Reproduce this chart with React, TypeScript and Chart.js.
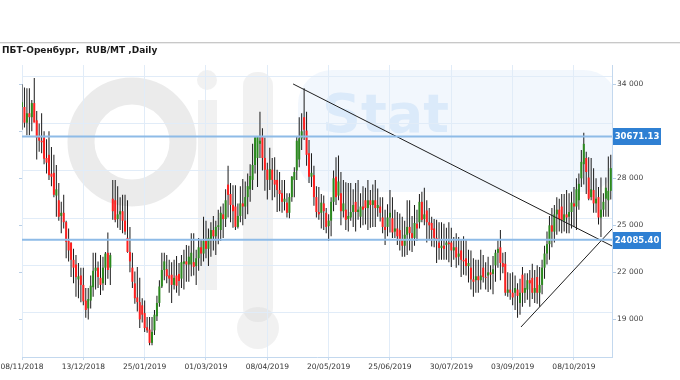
import React, { useEffect, useRef } from 'react';
import { Chart, registerables } from 'chart.js';

Chart.register(...registerables);

const chartTitle = 'ПБТ-Оренбург,  RUB/MT ,Daily';

// bar index of each dated tick and its label
const tickIndex = [0, 25, 50, 75, 100, 125, 150, 175, 200, 225];
const tickDates = ['08/11/2018', '13/12/2018', '25/01/2019', '01/03/2019', '08/04/2019', '20/05/2019', '25/06/2019', '30/07/2019', '03/09/2019', '08/10/2019'];

const priceTicks = [19000, 22000, 25000, 28000, 31000, 34000];
const gridPrices = [19500, 22500, 25500, 28500, 31500, 34500];
const hiddenTick = 31000;

const levels = [30671.13, 24085.4];

const trendDown = [{ x: 110.5, y: 34020 }, { x: 240.5, y: 23683 }];
const trendUp = [{ x: 203.4, y: 18515 }, { x: 240.5, y: 24768 }];

const opens = [
  32550, 32550, 31550, 32150, 31900, 32800, 31700, 30650, 30400, 30600,
  29300, 29500, 28300, 28350, 26900, 26600, 25600, 25800, 25200, 24000,
  23900, 22800, 22500, 21550, 21800, 21200, 20200, 19700, 20200, 21050,
  22100, 22300, 21650, 21300, 22300, 23250, 22300, 26700, 26600, 25400,
  25700, 25900, 25300, 24200, 23300, 22300, 21300, 20400, 20100, 19900,
  19400, 18500, 18350, 17500, 18300, 19200, 20050, 21100, 22150, 22200,
  21800, 21850, 21200, 21800, 21900, 21600, 22550, 22700, 22500, 22500,
  22650, 22400, 22900, 23600, 23200, 24000, 23500, 24100, 24700, 24300,
  24900, 24700, 25700, 25400, 27600, 27000, 26300, 26200, 24900, 25600,
  26400, 26200, 26800, 27300, 27900, 28850, 29300, 30200, 30650, 29300,
  28550, 27900, 28550, 27900, 27900, 27250, 27050, 26500, 26450, 25800,
  26800, 27900, 28500, 29200, 30550, 31900, 31050, 29600, 28100, 28200,
  26800, 25850, 25800, 26400, 25800, 24950, 25300, 26500, 28100, 26900,
  27050, 25900, 26000, 25400, 25500, 25850, 26500, 25850, 25550, 26200,
  26600, 26100, 26600, 26300, 26600, 26100, 26200, 25500, 24900, 24900,
  25500, 25450, 24600, 24800, 24700, 24100, 23700, 24400, 24900, 24500,
  24200, 25100, 25200, 26500, 25400, 25950, 25200, 25150, 24800, 24200,
  23900, 23550, 23700, 23750, 23900, 23900, 23400, 23600, 23000, 23400,
  22800, 22900, 22400, 22300, 21550, 21500, 21750, 21500, 22300, 21700,
  21800, 22000, 21900, 22450, 23250, 23600, 22600, 22550, 20700, 20900,
  20700, 20700, 20900, 20050, 21850, 20700, 20900, 21500, 21650, 20700,
  21700, 20700, 21200, 22300, 23200, 23800, 25000, 24600, 25700, 26000,
  26200, 25300, 25700, 25550, 25850, 26400, 26200, 26600, 28000, 28900,
  29300, 28050, 26800, 27250, 26400, 26800, 25500, 26000, 26700, 26600,
  27200,
];

const highs = [
  34000, 33800, 33750, 33750, 33000, 34400, 32300, 31500, 32150, 31000,
  30500, 31000, 30000, 29500, 28850, 27700, 26500, 26950, 25300, 24800,
  23900, 23500, 23100, 22600, 22300, 22300, 21000, 21000, 21800, 23250,
  23250, 22700, 23100, 23000, 23300, 24550, 23250, 27900, 27900, 27500,
  26800, 26950, 26950, 26600, 24900, 23250, 22050, 22350, 21650, 20350,
  20200, 19150, 19150, 19150, 19600, 20500, 21500, 23250, 23250, 23100,
  22800, 22650, 22800, 23050, 22600, 23100, 23450, 23750, 23700, 24500,
  24500, 23450, 24200, 24100, 25550, 25300, 24800, 25200, 25600, 25300,
  26000, 26200, 26400, 27300, 28800, 27700, 27550, 27550, 26400, 27500,
  27950, 27800, 28300, 28900, 30200, 30650, 30650, 32250, 31200, 30600,
  29000, 29950, 29300, 29350, 28550, 28400, 27900, 27900, 27050, 27050,
  28150, 28700, 30700, 31900, 32150, 33750, 32250, 30450, 29600, 28800,
  27500, 27450, 27000, 26900, 26100, 25700, 26800, 28500, 29350, 29450,
  28400, 27900, 27750, 27700, 27700, 27300, 27700, 27900, 27050, 27500,
  27400, 27900, 27250, 27600, 27900, 27350, 26800, 26800, 26000, 26350,
  27250, 26800, 26000, 25850, 25750, 25550, 25300, 26600, 26600, 25600,
  26300, 26000, 27000, 27150, 27400, 26600, 26100, 25550, 25400, 25350,
  25200, 25200, 25100, 24850, 25200, 24850, 24250, 24500, 24250, 24050,
  24300, 24050, 23450, 23400, 22900, 22800, 22800, 23450, 23100, 22650,
  23000, 22450, 23050, 23450, 24050, 24700, 23250, 23300, 22000, 21950,
  22000, 21800, 21300, 21600, 22350, 21950, 21950, 22150, 22550, 22150,
  22450, 22350, 22800, 23700, 24600, 25600, 26100, 26300, 26800, 26700,
  27000, 27000, 27250, 27050, 27150, 27450, 28000, 28300, 29800, 30900,
  29700, 29350, 29300, 28650, 28000, 27450, 28050, 27050, 28050, 29400,
  29500,
];

const lows = [
  31100, 31250, 30750, 30750, 31000, 31600, 29200, 29700, 29600, 28900,
  28300, 27900, 27500, 26800, 25550, 25300, 24500, 24800, 22900, 22700,
  21700, 21300, 20450, 20350, 20100, 19900, 19100, 19000, 19700, 20450,
  20900, 21000, 20550, 20850, 21200, 21600, 21200, 25350, 25200, 24850,
  24700, 24500, 24400, 23250, 22000, 21000, 20000, 19500, 18450, 18800,
  18200, 18150, 17350, 17350, 18000, 18900, 19800, 21000, 21500, 21300,
  20700, 20050, 20900, 20700, 20500, 21000, 20900, 21400, 21400, 21750,
  21800, 21200, 22100, 22400, 22700, 22900, 22400, 23000, 23400, 23100,
  23800, 24000, 24200, 24900, 25500, 25200, 24850, 24700, 24800, 25200,
  25000, 25400, 25700, 26500, 27250, 28300, 27450, 29300, 28500, 27200,
  26650, 27250, 26600, 26800, 25850, 25900, 25800, 25950, 25500, 25450,
  26500, 26800, 27900, 28700, 29800, 30450, 28800, 27700, 27450, 26250,
  25500, 25350, 24800, 24700, 24500, 24000, 24300, 25900, 26300, 26600,
  25000, 25500, 24700, 24600, 25300, 24900, 24600, 25350, 24850, 25000,
  25050, 24700, 24850, 24900, 24900, 25550, 25250, 24500, 23750, 24300,
  24550, 24200, 24200, 23750, 23400, 23000, 23000, 23100, 23400, 23300,
  23700, 24000, 24800, 25200, 25000, 23900, 24050, 23650, 23600, 22600,
  22800, 22800, 22800, 22800, 22650, 22350, 22800, 22300, 22450, 21700,
  21850, 21800, 21350, 20900, 20450, 20700, 20700, 20900, 21350, 20900,
  20750, 20900, 20600, 21400, 22300, 21500, 21950, 20500, 20450, 20250,
  19900, 19600, 19100, 19300, 19800, 20050, 20250, 19800, 20300, 20050,
  20000, 19800, 20600, 21600, 22500, 22800, 23600, 23900, 24400, 24600,
  24500, 24600, 24500, 24500, 24800, 24900, 24700, 26000, 27450, 27600,
  27000, 26600, 26600, 25800, 25800, 25050, 24250, 25550, 25550, 25550,
  26650,
];

const closes = [
  32850, 31550, 32150, 31900, 32800, 31550, 30600, 30400, 30300, 29250,
  29000, 28200, 28100, 26950, 27300, 25550, 25800, 25200, 23950, 23400,
  22800, 22300, 21700, 21750, 21200, 20150, 19600, 20300, 21150, 22100,
  22300, 21700, 21200, 22300, 23200, 22150, 23100, 25900, 25350, 25700,
  25900, 25300, 24600, 23300, 22700, 21400, 20350, 20100, 19000, 19300,
  18450, 18300, 17500, 18200, 19300, 20050, 21100, 22150, 22700, 21750,
  21600, 21200, 21650, 21150, 21450, 22650, 22700, 22500, 23000, 23250,
  22350, 22900, 23600, 23200, 24000, 23500, 24200, 24700, 24300, 24900,
  25000, 25800, 25400, 26600, 26950, 26300, 25900, 24900, 25600, 26400,
  26200, 26800, 27500, 28150, 28850, 30600, 30650, 30400, 29300, 28550,
  27900, 28600, 27900, 27600, 27250, 27000, 26500, 26700, 25800, 26800,
  28100, 28400, 30400, 30550, 31000, 31100, 29500, 28100, 28350, 26800,
  25850, 25700, 26450, 25900, 24900, 25300, 26500, 28000, 26800, 27800,
  25900, 26400, 25350, 25600, 25850, 26300, 25850, 26000, 26200, 26000,
  26100, 26600, 26300, 26600, 26100, 26300, 25800, 24900, 24700, 25500,
  25800, 24550, 24800, 24300, 24050, 23700, 24400, 24900, 24500, 24200,
  25150, 24800, 26500, 25350, 25700, 25200, 25000, 24700, 24200, 24100,
  23550, 23700, 23500, 23900, 23800, 23400, 23600, 22950, 23200, 22800,
  22700, 22400, 22600, 21550, 21400, 21750, 21500, 21800, 21700, 21650,
  22000, 21850, 22200, 23250, 23500, 22600, 22350, 20700, 20900, 20700,
  20400, 21000, 20500, 20700, 20700, 21000, 21500, 21300, 20700, 21000,
  20700, 21200, 22300, 23200, 23800, 25000, 24600, 25700, 26000, 25400,
  25350, 25700, 25500, 25850, 26450, 26200, 27300, 27650, 29050, 30200,
  28400, 26700, 27300, 26400, 26700, 25500, 26000, 26500, 27400, 27200,
  28650,
];

const UP = '#2b8a1e';
const DOWN = '#ff1f1f';
const FONT = "'DejaVu Sans', Verdana, sans-serif";

const fmt = (v: number) => String(v).replace(/\B(?=(\d{3})+(?!\d))/g, ' ');

const backdrop = {
  id: 'backdrop',
  beforeDraw(chart: any) {
    const { ctx, chartArea: a, width } = chart;
    ctx.save();
    ctx.fillStyle = '#ffffff';
    ctx.fillRect(0, 0, chart.width, chart.height);
    ctx.fillStyle = '#c8c8c8';
    ctx.fillRect(0, 42, width, 1);
    ctx.fillStyle = '#ececec';
    ctx.fillRect(0, 43, width, 1);
    ctx.fillStyle = '#1a1a1a';
    ctx.font = `bold 9px ${FONT}`;
    ctx.textBaseline = 'middle';
    ctx.textAlign = 'left';
    ctx.fillText(chartTitle, 2, 51);

    // faint watermark
    ctx.beginPath();
    ctx.rect(a.left, a.top, a.right - a.left, a.bottom - a.top);
    ctx.clip();
    ctx.fillStyle = 'rgba(222,236,250,0.4)';
    ctx.beginPath();
    (ctx as any).roundRect(298, 70, 320, 122, 34);
    ctx.fill();
    ctx.strokeStyle = 'rgba(205,205,205,0.4)';
    ctx.lineWidth = 27;
    ctx.beginPath();
    ctx.arc(132, 142, 51, 0, Math.PI * 2);
    ctx.stroke();
    ctx.fillStyle = 'rgba(210,210,210,0.3)';
    ctx.fillRect(198, 100, 19, 190);
    ctx.beginPath();
    ctx.arc(207, 80, 10, 0, Math.PI * 2);
    ctx.fill();
    ctx.beginPath();
    (ctx as any).roundRect(243, 72, 30, 250, 14);
    ctx.fill();
    ctx.beginPath();
    ctx.arc(258, 328, 21, 0, Math.PI * 2);
    ctx.fill();
    ctx.fillStyle = 'rgba(185,216,245,0.4)';
    ctx.font = `bold 54px ${FONT}`;
    ctx.textBaseline = 'alphabetic';
    ctx.fillText('Stat', 322, 132);
    ctx.restore();
  },
  beforeDatasetsDraw(chart: any) {
    const { ctx, chartArea: a, scales } = chart;
    const y = scales.y;
    ctx.save();
    ctx.strokeStyle = '#e1ecf8';
    ctx.lineWidth = 1;
    gridPrices.forEach((v) => {
      const p = Math.round(y.getPixelForValue(v)) + 0.5;
      if (p < a.top || p > a.bottom) return;
      ctx.beginPath();
      ctx.moveTo(a.left, p);
      ctx.lineTo(a.right, p);
      ctx.stroke();
    });
    ctx.strokeStyle = '#b9cfe6';
    priceTicks.forEach((v) => {
      const p = Math.round(y.getPixelForValue(v)) + 0.5;
      ctx.beginPath();
      ctx.moveTo(a.left - 3, p);
      ctx.lineTo(a.left, p);
      ctx.stroke();
    });
    ctx.restore();
  },
  afterDraw(chart: any) {
    const { ctx, chartArea: a, scales } = chart;
    ctx.save();
    levels.forEach((lv) => {
      const p = scales.y.getPixelForValue(lv);
      ctx.fillStyle = '#2f80d3';
      ctx.fillRect(a.right + 1, Math.round(p) - 8, 48, 17);
      ctx.fillStyle = '#ffffff';
      ctx.font = `bold 8.5px ${FONT}`;
      ctx.textAlign = 'center';
      ctx.textBaseline = 'middle';
      ctx.fillText(lv.toFixed(2), a.right + 25, Math.round(p) + 0.5);
    });
    ctx.restore();
  },
};

export default function App() {
  const ref = useRef<HTMLCanvasElement | null>(null);

  useEffect(() => {
    if (!ref.current) return;
    const wicks = highs.map((h, i) => ({ x: i, y: [lows[i], h] }));
    const bodies = opens.map((o, i) => ({ x: i, y: [o, closes[i]] }));
    const bodyColors = opens.map((o, i) => (closes[i] >= o ? UP : DOWN));
    const xMax = 240.5;

    const chart = new Chart(ref.current, {
      type: 'bar',
      data: {
        datasets: [
          ...levels.map((lv) => ({
            type: 'line' as const,
            data: [{ x: 0, y: lv }, { x: xMax, y: lv }],
            borderColor: '#8ebbe7',
            borderWidth: 2,
            pointRadius: 0,
            order: 0,
          })),
          {
            type: 'line' as const,
            data: trendDown,
            borderColor: '#1e1e1e',
            borderWidth: 1,
            pointRadius: 0,
            order: 0,
          },
          {
            type: 'line' as const,
            data: trendUp,
            borderColor: '#1e1e1e',
            borderWidth: 1,
            pointRadius: 0,
            order: 0,
          },
          {
            type: 'bar' as const,
            data: bodies as any,
            backgroundColor: bodyColors,
            barThickness: 2,
            grouped: false,
            inflateAmount: 0,
            order: 1,
          },
          {
            type: 'bar' as const,
            data: wicks as any,
            backgroundColor: '#1a1a1a',
            barThickness: 1,
            grouped: false,
            inflateAmount: 0,
            order: 2,
          },
        ],
      },
      options: {
        animation: false,
        responsive: false,
        maintainAspectRatio: false,
        layout: { padding: { left: 22, top: 65, right: 0, bottom: 0 } },
        plugins: {
          legend: { display: false },
          tooltip: { enabled: false },
        },
        scales: {
          x: {
            type: 'linear',
            min: 0,
            max: xMax,
            offset: false,
            afterBuildTicks: (s: any) => {
              s.ticks = tickIndex.map((v) => ({ value: v }));
            },
            afterFit: (s: any) => {
              s.height = 23;
              s.paddingLeft = 0;
              s.paddingRight = 0;
            },
            ticks: {
              autoSkip: false,
              maxRotation: 0,
              padding: 3,
              color: '#333333',
              font: { family: FONT, size: 7.5 },
              callback: (v: any) => {
                const k = tickIndex.indexOf(Number(v));
                return k >= 0 ? tickDates[k] : '';
              },
            },
            grid: { color: '#e1ecf8', offset: false, tickLength: 3, tickColor: '#c6d9ee' },
            border: { color: '#c3d8ee' },
          },
          y: {
            type: 'linear',
            position: 'right',
            min: 16600,
            max: 35230,
            beginAtZero: false,
            afterBuildTicks: (s: any) => {
              s.ticks = priceTicks.map((v) => ({ value: v }));
            },
            afterFit: (s: any) => {
              s.width = 68;
              s.paddingTop = 0;
              s.paddingBottom = 0;
            },
            ticks: {
              padding: 1,
              color: '#444444',
              font: { family: FONT, size: 7.5 },
              callback: (v: any) => (Number(v) === hiddenTick ? '' : fmt(Number(v))),
            },
            grid: { drawOnChartArea: false, tickLength: 4, tickColor: '#b9cfe6' },
            border: { color: '#c3d8ee' },
          },
        },
      } as any,
      plugins: [backdrop],
    });
    return () => chart.destroy();
  }, []);

  return (
    <div style={{ position: 'fixed', left: 0, top: 0, width: 680, height: 380, background: '#fff' }}>
      <canvas ref={ref} width={680} height={380} style={{ display: 'block' }} />
    </div>
  );
}
